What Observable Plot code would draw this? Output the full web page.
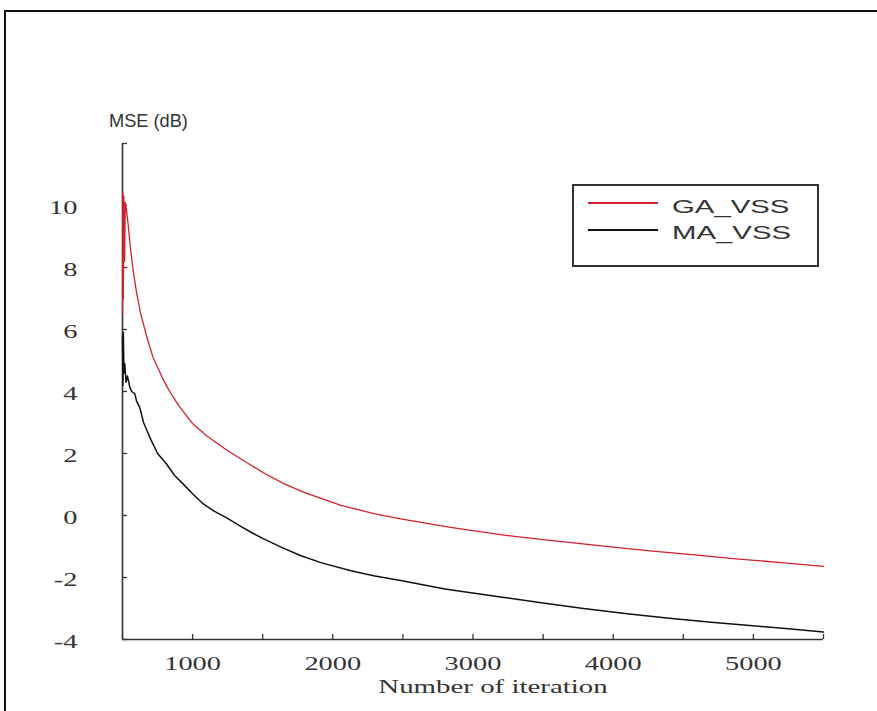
<!DOCTYPE html>
<html>
<head>
<meta charset="utf-8">
<script src="https://cdn.jsdelivr.net/npm/d3@7"></script>
<script src="https://cdn.jsdelivr.net/npm/@observablehq/plot@0.6"></script>
<style>
html, body { margin: 0; padding: 0; background: #fff; }
#wrap { position: relative; width: 877px; height: 711px; overflow: hidden; background: #fff; }
#frame { position: absolute; left: 4px; top: 10px; width: 900px; height: 800px; border-top: 2px solid #111; border-left: 2px solid #111; }
#chart { position: absolute; left: 0; top: 0; }
.lab { position: absolute; white-space: nowrap; color: #333; line-height: 1; }
.sans { font-family: "Liberation Sans", Arial, sans-serif; }
.serif { font-family: "Liberation Serif", "Times New Roman", serif; }
#legend { position: absolute; left: 572px; top: 184px; width: 247px; height: 83px; box-sizing: border-box; border: 2px solid #333; background: #fff; }
.swatch { position: absolute; left: 588px; width: 70px; height: 1.5px; }
</style>
</head>
<body>
<div id="wrap">
  <div id="frame"></div>
  <div id="chart"></div>
  <div class="lab sans" id="ylab" style="left:109px; top:113px; font-size:17.5px; transform:scaleX(1.04); transform-origin:left;"></div>
  <div class="lab serif" id="xlab" style="left:293px; width:400px; text-align:center; top:677px; font-size:19px; transform:scaleX(1.52); transform-origin:center;"></div>
  <div id="legend"></div>
  <div class="swatch" id="sw0" style="top:202px;"></div>
  <div class="swatch" id="sw1" style="top:229px;"></div>
  <div class="lab sans" id="lg0" style="left:672px; top:198px; font-size:18px; transform:scaleX(1.63); transform-origin:left;"></div>
  <div class="lab sans" id="lg1" style="left:672px; top:224px; font-size:18px; transform:scaleX(1.63); transform-origin:left;"></div>
</div>
<script>
// ---- data ----
const seriesNames = ["GA_VSS", "MA_VSS"];
const seriesColors = ["#d4202c", "#111111"];

const gaIter = [500, 503, 506, 510, 515, 520, 527, 535, 540, 555, 576, 600, 630, 671, 718, 789, 836, 900, 1003, 1100, 1240, 1417, 1524, 1654, 1800, 2058, 2300, 2484, 2840, 3196, 3551, 4000, 4262, 4600, 4855, 5200, 5500];
const gaMse  = [6.5, 10.4, 7.0, 10.3, 8.2, 10.1, 9.9, 9.6, 9.4, 8.7, 7.9, 7.2, 6.5, 5.8, 5.1, 4.4, 4.0, 3.55, 2.95, 2.57, 2.12, 1.62, 1.33, 1.02, 0.74, 0.33, 0.05, -0.11, -0.38, -0.62, -0.8, -1.02, -1.14, -1.28, -1.39, -1.52, -1.64];

const maIter = [500, 503, 506, 510, 516, 525, 535, 552, 565, 587, 600, 623, 650, 694, 750, 813, 870, 932, 1000, 1074, 1150, 1240, 1346, 1417, 1500, 1631, 1773, 1915, 2129, 2300, 2484, 2800, 3196, 3500, 3788, 4100, 4381, 4700, 4974, 5250, 5500];
const maMse  = [5.8, 4.2, 5.9, 4.6, 4.9, 4.3, 4.5, 4.14, 4.0, 3.93, 3.7, 3.49, 3.0, 2.53, 2.0, 1.67, 1.3, 1.02, 0.7, 0.38, 0.15, -0.07, -0.36, -0.54, -0.74, -1.02, -1.3, -1.52, -1.78, -1.95, -2.1, -2.37, -2.63, -2.82, -3.0, -3.17, -3.31, -3.44, -3.55, -3.65, -3.76];

const xTicks = [500, 1000, 1500, 2000, 2500, 3000, 3500, 4000, 4500, 5000, 5500];
const xTickLabels = [1000, 2000, 3000, 4000, 5000];
const yTicks = [-4, -2, 0, 2, 4, 6, 8, 10, 12];
const yTickLabels = [-4, -2, 0, 2, 4, 6, 8, 10];

const xTitle = "Number of iteration";
const yTitle = "MSE (dB)";

// ---- build ----
const ga = gaIter.map((x, i) => ({iter: x, mse: gaMse[i]}));
const ma = maIter.map((x, i) => ({iter: x, mse: maMse[i]}));

const svg = Plot.plot({
  width: 877,
  height: 711,
  marginLeft: 122,
  marginRight: 54,
  marginTop: 143,
  marginBottom: 72,
  x: {domain: [500, 5500]},
  y: {domain: [-4, 12]},
  style: {background: "transparent", fontFamily: "'Liberation Serif', 'Times New Roman', serif", fontSize: "18px", color: "#333"},
  marks: [
    Plot.ruleX([500], {stroke: "#333", strokeWidth: 1.6}),
    Plot.ruleY([-4], {stroke: "#333", strokeWidth: 1.6}),
    Plot.axisY(yTicks, {tickSize: -5, tickFormat: () => "", label: null, stroke: "#333", strokeWidth: 1.3}),
    Plot.axisY(yTickLabels, {tickSize: 0, tickPadding: 45, dy: 3, label: null, tickFormat: d => String(d), fill: "#333"}),
    Plot.axisX(xTicks, {tickSize: -5, tickFormat: () => "", label: null, stroke: "#333", strokeWidth: 1.3}),
    Plot.axisX(xTickLabels, {tickSize: 0, tickPadding: 18, label: null, tickFormat: d => String(d), fill: "#333"}),
    Plot.line(ga, {x: "iter", y: "mse", stroke: seriesColors[0], strokeWidth: 1.3}),
    Plot.line(ma, {x: "iter", y: "mse", stroke: seriesColors[1], strokeWidth: 1.5})
  ]
});

// stretch tick labels horizontally like the reference
svg.querySelectorAll("text").forEach(t => {
  const tr = t.getAttribute("transform");
  if (tr) t.setAttribute("transform", tr + " scale(1.58,1)");
});

document.getElementById("chart").appendChild(svg);
document.getElementById("ylab").textContent = yTitle;
document.getElementById("xlab").textContent = xTitle;
document.getElementById("lg0").textContent = seriesNames[0];
document.getElementById("lg1").textContent = seriesNames[1];
document.getElementById("sw0").style.background = seriesColors[0];
document.getElementById("sw1").style.background = seriesColors[1];
</script>
</body>
</html>
